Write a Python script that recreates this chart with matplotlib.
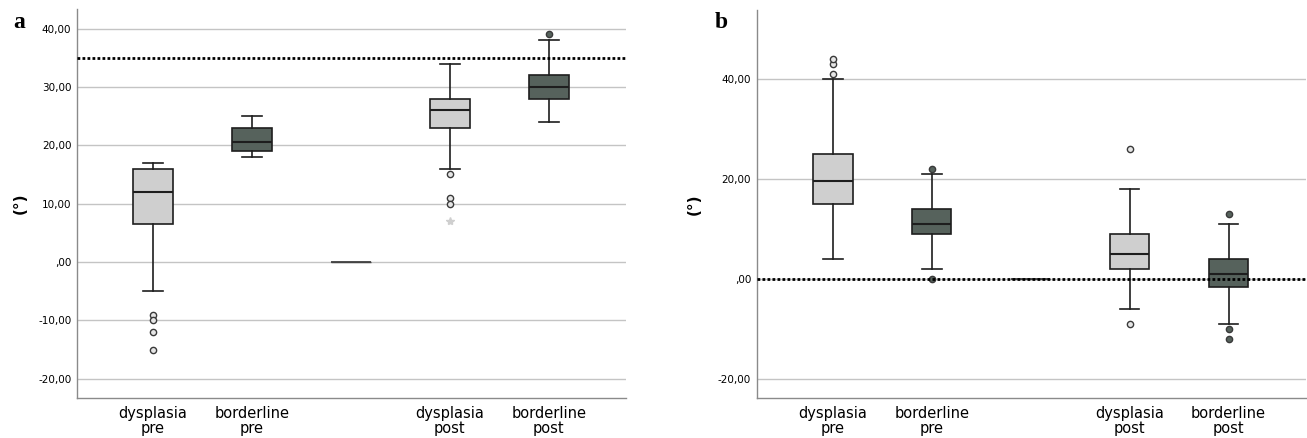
import numpy as np
import matplotlib.pyplot as plt

# groups (middle slot is empty in the original SPSS chart)
labels = ["dysplasia\npre", "borderline\npre", "", "dysplasia\npost", "borderline\npost"]
kinds = ["light", "dark", "empty", "light", "dark"]

# panel a : whislo, q1, med, q3, whishi
a_whislo = [-5, 18, 0, 16, 24]
a_q1 = [6.5, 19, 0, 23, 28]
a_med = [12, 20.5, 0, 26, 30]
a_q3 = [16, 23, 0, 28, 32]
a_whishi = [17, 25, 0, 34, 38]
a_fliers = [[-9, -10, -12, -15], [], [], [15, 11, 10], [39]]
a_extreme = [[], [], [], [7], []]
a_ref = 35

# panel b
b_whislo = [4, 2, 0, -6, -9]
b_q1 = [15, 9, 0, 2, -1.5]
b_med = [19.5, 11, 0, 5, 1]
b_q3 = [25, 14, 0, 9, 4]
b_whishi = [40, 21, 0, 18, 11]
b_fliers = [[41, 43, 44], [22, 0], [], [26, -9], [13, -10, -12]]
b_extreme = [[], [], [], [], []]
b_ref = 0

LIGHT = "#cfcfcf"
DARK = "#56625c"
EDGE = "#1e1e1e"


def fmt(v):
    if v == 0:
        return ",00"
    return f"{v:.2f}".replace(".", ",")


def panel(ax, whislo, q1, med, q3, whishi, fliers, extreme, ref, yticks, ylim, labx):
    ax.set_axisbelow(True)
    for t in yticks:
        ax.axhline(t, color="#c4c4c4", lw=1.0, zorder=0)
    pos = np.arange(1, len(labels) + 1)
    for i in range(len(labels)):
        st = [dict(whislo=whislo[i], q1=q1[i], med=med[i], q3=q3[i],
                   whishi=whishi[i], fliers=[])]
        if kinds[i] == "empty":
            ax.bxp(st, positions=[pos[i]], widths=0.4, showfliers=False,
                   showcaps=False, patch_artist=True,
                   boxprops=dict(facecolor="#444444", edgecolor="#444444", lw=1),
                   medianprops=dict(color="#444444", lw=1.3),
                   whiskerprops=dict(lw=0), zorder=2)
            continue
        fc = LIGHT if kinds[i] == "light" else DARK
        ax.bxp(st, positions=[pos[i]], widths=0.4, capwidths=0.2,
               patch_artist=True, showfliers=False,
               boxprops=dict(facecolor=fc, edgecolor=EDGE, lw=1.2),
               medianprops=dict(color=EDGE, lw=1.5),
               whiskerprops=dict(color=EDGE, lw=1.2),
               capprops=dict(color=EDGE, lw=1.2), zorder=3)
        mf = "#e6e6e6" if kinds[i] == "light" else DARK
        ax.plot([pos[i]] * len(fliers[i]), fliers[i], "o", ms=4.5, mfc=mf,
                mec="#3a3a3a", mew=1.0, zorder=4)
        ax.plot([pos[i]] * len(extreme[i]), extreme[i], "*", ms=6,
                color="#cfcfcf", zorder=4)
    ax.axhline(ref, color="black", lw=2.0, ls=(0, (1, 0.8)), zorder=5)
    ax.set_xlim(0.232, 5.78)
    ax.set_ylim(*ylim)
    ax.set_xticks(pos)
    ax.set_xticklabels(labels, fontsize=10.5, linespacing=0.95)
    ax.set_yticks(yticks)
    ax.set_yticklabels([fmt(t) for t in yticks], fontsize=7.5)
    ax.tick_params(length=0, pad=4)
    ax.tick_params(axis="x", pad=6)
    for s in ["top", "right"]:
        ax.spines[s].set_visible(False)
    for s in ["left", "bottom"]:
        ax.spines[s].set_color("#8a8a8a")
        ax.spines[s].set_linewidth(1.0)
    ax.set_ylabel("(°)", fontsize=11, fontweight="bold")
    ax.yaxis.set_label_coords(labx, 0.5)


fig = plt.figure(figsize=(13.07, 4.38), dpi=100)
ax1 = fig.add_axes([0.0589, 0.0913, 0.4201, 0.8875])
ax2 = fig.add_axes([0.579, 0.0913, 0.420, 0.8857])

panel(ax1, a_whislo, a_q1, a_med, a_q3, a_whishi, a_fliers, a_extreme, a_ref,
      [-20, -10, 0, 10, 20, 30, 40], (-23.3, 43.3), -0.089)
panel(ax2, b_whislo, b_q1, b_med, b_q3, b_whishi, b_fliers, b_extreme, b_ref,
      [-20, 0, 20, 40], (-23.7, 53.7), -0.100)

fig.text(0.010, 0.935, "a", fontsize=17, fontweight="bold", family="Liberation Serif")
fig.text(0.547, 0.935, "b", fontsize=17, fontweight="bold", family="Liberation Serif")

fig.savefig("out.png", dpi=100)
